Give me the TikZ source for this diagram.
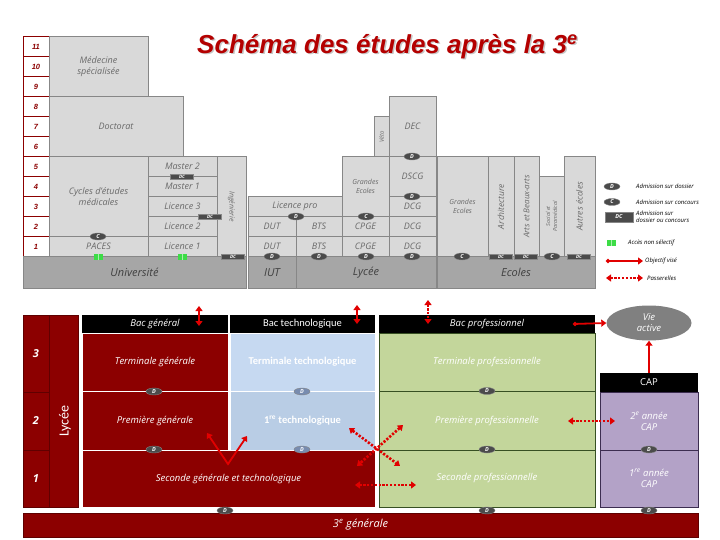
\documentclass[tikz,border=0pt]{standalone}
\usepackage{fontspec}
\setmainfont{Open Sans}
\newfontfamily\titrefont{Liberation Sans}
\newfontfamily\calibfont{Carlito}
\usetikzlibrary{positioning,shapes.geometric,arrows.meta}

\definecolor{rougefonce}{RGB}{140,0,0}
\definecolor{rougetrait}{RGB}{95,0,0}
\definecolor{rougetitre}{RGB}{180,0,0}
\definecolor{rougefleche}{RGB}{225,0,0}
\definecolor{grisclair}{RGB}{217,217,217}
\definecolor{grisbord}{RGB}{135,135,135}
\definecolor{grisbase}{RGB}{166,166,166}
\definecolor{gristexte}{RGB}{105,105,105}
\definecolor{grisbadge}{RGB}{75,75,75}
\definecolor{bleutermt}{RGB}{198,217,241}
\definecolor{bleupremt}{RGB}{185,205,229}
\definecolor{bleubadge}{RGB}{120,140,175}
\definecolor{vertpro}{RGB}{195,214,155}
\definecolor{vertbord}{RGB}{55,80,35}
\definecolor{violetcap}{RGB}{179,162,199}
\definecolor{violetbord}{RGB}{60,45,80}
\definecolor{vertacces}{RGB}{60,220,70}
\definecolor{grisvie}{RGB}{128,128,128}

\tikzset{
  zone/.style n args={4}{at={({((#1)+(#3))/2},{((#2)+(#4))/2})},
    minimum width={((#3)-(#1))*1pt}, minimum height={((#4)-(#2))*1pt}},
  annee/.style={draw=rougefonce, fill=white, inner sep=0pt, text=rougefonce,
    font=\titrefont\bfseries\itshape\fontsize{7.5}{8}\selectfont},
  gbox/.style={draw=grisbord, fill=grisclair, inner sep=0pt, text=gristexte,
    font=\itshape\small, align=center},
  petit/.style={font=\itshape\fontsize{7}{8.5}\selectfont},
  basebox/.style={draw=grisbord, fill=grisbase, inner sep=0pt, text=black!75,
    font=\itshape\fontsize{11}{12}\selectfont},
  dbadge/.style={ellipse, draw=grisbord, fill=grisbadge, minimum width=16pt,
    minimum height=7pt, inner sep=0pt, text=white,
    font=\bfseries\itshape\fontsize{5.5}{5.5}\selectfont},
  dcbadge/.style={rectangle, draw=grisbord, fill=grisbadge, minimum width=23pt,
    minimum height=5.5pt, inner sep=0pt, text=white,
    font=\bfseries\itshape\fontsize{4.5}{4.5}\selectfont},
  nonsel/.style={fill=vertacces, minimum width=9pt, minimum height=6pt, inner sep=0pt,
    path picture={\draw[white!55!vertacces, line width=0.8pt]
      (path picture bounding box.north) -- (path picture bounding box.south);}},
  legende/.style={anchor=west, inner sep=0pt, align=left,
    font=\itshape\fontsize{6}{7}\selectfont},
  rbox/.style={draw=white, line width=0.8pt, fill=rougefonce, inner sep=0pt, text=white,
    font=\itshape\fontsize{9.5}{11}\selectfont, align=center},
  entete/.style={fill=black, inner sep=0pt, text=white,
    font=\itshape\fontsize{9.5}{11}\selectfont},
  tbox/.style={draw=white, line width=0.8pt, inner sep=0pt, text=white,
    font=\calibfont\bfseries\fontsize{10.5}{12}\selectfont},
  pbox/.style={draw=vertbord, fill=vertpro, inner sep=0pt, text=white,
    font=\itshape\fontsize{9.5}{11}\selectfont},
  cbox/.style={draw=violetbord, fill=violetcap, inner sep=0pt, text=white,
    font=\itshape\fontsize{9.5}{11}\selectfont, align=center},
  fleche/.style={draw=rougefleche, line width=1.8pt},
  passerelle/.style={draw=rougefleche, line width=2.6pt, dash pattern=on 2.2pt off 1.6pt},
  pointe/.tip={Triangle[width=7pt,length=5pt]},
  depart/.tip={Circle[length=4pt]}
}

\begin{document}
\begin{tikzpicture}[x=1pt, y=-1pt]
  \useasboundingbox (0,0) rectangle (720,540);

  % titre
  \node[anchor=base, text=black!22, font=\titrefont\bfseries\itshape\fontsize{26}{26}\selectfont]
    (ombre) at (389,55) {Schéma des études après la 3\textsuperscript{e}};
  \node[anchor=base, text=rougetitre, font=\titrefont\bfseries\itshape\fontsize{26}{26}\selectfont]
    (titre) at (387.5,53.5) {Schéma des études après la 3\textsuperscript{e}};

  % annees apres le bac
  \foreach \a in {1,...,11}
    \node[annee, zone={23}{256.5-20*\a}{49}{276.5-20*\a}] (an\a) {\a};

  % universite
  \node[gbox, zone={49}{36.5}{148}{96.5}] (medspe) {Médecine\\spécialisée};
  \node[gbox, zone={49}{96.5}{183}{156.5}] (doct) {Doctorat};
  \node[gbox, zone={49}{156.5}{148}{236.5}] (cycles) {Cycles d'études\\médicales};
  \node[gbox, zone={49}{236.5}{148}{256.5}] (paces) {PACES};
  \node[gbox, zone={148}{156.5}{217}{176.5}] (m2) {Master 2};
  \node[gbox, zone={148}{176.5}{217}{196.5}] (m1) {Master 1};
  \node[gbox, zone={148}{196.5}{217}{216.5}] (l3) {Licence 3};
  \node[gbox, zone={148}{216.5}{217}{236.5}] (l2) {Licence 2};
  \node[gbox, zone={148}{236.5}{217}{256.5}] (l1) {Licence 1};
  \node[gbox, zone={217}{156.5}{246}{256.5}] (ing) {};
  \node[rotate=-90, text=gristexte, petit] at (ing) {Ingénierie};
  \node[basebox, zone={23}{256.5}{246}{288}] (univ) {Université};

  % iut et lycee
  \node[gbox, zone={248}{196.5}{342}{216.5}] (lpro) {Licence pro};
  \node[gbox, zone={248}{216.5}{296}{236.5}] (dut2) {DUT};
  \node[gbox, zone={296}{216.5}{342}{236.5}] (bts2) {BTS};
  \node[gbox, zone={248}{236.5}{296}{256.5}] (dut1) {DUT};
  \node[gbox, zone={296}{236.5}{342}{256.5}] (bts1) {BTS};
  \node[gbox, petit, zone={342}{156.5}{389}{216.5}] (ge) {Grandes\\Ecoles};
  \node[gbox, zone={342}{216.5}{389}{236.5}] (cpge2) {CPGE};
  \node[gbox, zone={342}{236.5}{389}{256.5}] (cpge1) {CPGE};
  \node[gbox, zone={374}{116.5}{389}{156.5}] (veto) {};
  \node[rotate=90, text=gristexte, font=\itshape\fontsize{6}{7}\selectfont] at (veto) {Véto};
  \node[gbox, zone={389}{96.5}{436}{156.5}] (dec) {DEC};
  \node[gbox, zone={389}{156.5}{436}{196.5}] (dscg) {DSCG};
  \node[gbox, zone={389}{196.5}{436}{216.5}] (dcg3) {DCG};
  \node[gbox, zone={389}{216.5}{436}{236.5}] (dcg2) {DCG};
  \node[gbox, zone={389}{236.5}{436}{256.5}] (dcg1) {DCG};
  \node[basebox, zone={248}{256.5}{296}{288}] (iut) {IUT};
  \node[basebox, zone={296}{256.5}{436}{288}] (lyc) {Lycée};

  % ecoles
  \node[gbox, petit, zone={437}{156.5}{488}{256.5}] (gec) {Grandes\\Ecoles};
  \node[gbox, zone={488}{156.5}{514}{256.5}] (archi) {};
  \node[gbox, zone={514}{156.5}{539}{256.5}] (arts) {};
  \node[gbox, zone={539}{176.5}{564}{256.5}] (social) {};
  \node[gbox, zone={564}{156.5}{595}{256.5}] (autres) {};
  \node[rotate=90, text=gristexte, font=\itshape\fontsize{8.5}{9}\selectfont] at (archi) {Architecture};
  \node[rotate=90, text=gristexte, font=\itshape\fontsize{8}{9}\selectfont] at (arts) {Arts et Beaux-arts};
  \node[rotate=90, text=gristexte, align=center, font=\itshape\fontsize{5.5}{7}\selectfont] at (social) {Social et\\Paramédical};
  \node[rotate=90, text=gristexte, font=\itshape\fontsize{8.5}{9}\selectfont] at (autres) {Autres écoles};
  \node[basebox, zone={437}{256.5}{595}{288}] (ecoles) {Ecoles};

  % modes d'admission
  \node[dbadge] (cPaces) at (98,236.5) {C};
  \node[nonsel] (nsPaces) at (98,256.5) {};
  \node[nonsel] (nsLic) at (182,256.5) {};
  \node[dcbadge] (dcMaster) at (182,176.5) {DC};
  \node[dcbadge] (dcL3) at (210,216.5) {DC};
  \node[dcbadge] (dcIng) at (233,256.5) {DC};
  \node[dbadge] (dLpro) at (296,216.5) {D};
  \node[dbadge] (dDut) at (272,256.5) {D};
  \node[dbadge] (dBts) at (319,256.5) {D};
  \node[dbadge] (dCpge) at (366,256.5) {D};
  \node[dbadge] (cGe) at (366,216.5) {C};
  \node[dbadge] (dDcg) at (412,256.5) {D};
  \node[dbadge] (dDscg) at (412,196.5) {D};
  \node[dbadge] (dDec) at (412,156.5) {D};
  \node[dbadge] (cGec) at (462,256.5) {C};
  \node[dcbadge] (dcArchi) at (501,256.5) {DC};
  \node[dcbadge] (dcArts) at (526,256.5) {DC};
  \node[dbadge] (cSocial) at (552,256.5) {C};
  \node[dcbadge] (dcAutres) at (579,256.5) {DC};

  % legende
  \node[dbadge] (legD) at (612,186.5) {D};
  \node[legende] (legDt) at (636,186.5) {Admission sur dossier};
  \node[dbadge] (legC) at (612,202) {C};
  \node[legende] (legCt) at (636,202) {Admission sur concours};
  \node[dcbadge, minimum width=28pt, minimum height=10pt,
    font=\bfseries\itshape\fontsize{5.5}{5.5}\selectfont] (legDC) at (619,217) {DC};
  \node[legende] (legDCt) at (636,217) {Admission sur\\dossier ou concours};
  \node[nonsel] (legNs) at (611,243) {};
  \node[legende] (legNst) at (628,243) {Accès non sélectif};
  \coordinate (legO1) at (606,261);
  \coordinate (legO2) at (643,261);
  \draw[fleche, depart-pointe] (legO1) -- (legO2);
  \node[legende] (legOt) at (645,261) {Objectif visé};
  \coordinate (legP1) at (606,278);
  \coordinate (legP2) at (643,278);
  \draw[passerelle, pointe-pointe] (legP1) -- (legP2);
  \node[legende] (legPt) at (647,278) {Passerelles};

  % lycee
  \foreach \n/\ya/\yb in {3/315/392, 2/392/450, 1/450/507}
    \node[rbox, draw=rougetrait, font=\bfseries\itshape\fontsize{11}{12}\selectfont,
      zone={23}{\ya}{49}{\yb}] (bn\n) {\n};
  \node[rbox, draw=rougetrait, zone={49}{315}{78}{507}] (lycee) {};
  \node[rotate=90, text=white, font=\calibfont\fontsize{14}{14}\selectfont] at (65,421) {Lycée};

  \node[entete, zone={82}{315}{228}{333}] (bacg) {Bac général};
  \node[entete, font=\calibfont\fontsize{10.5}{12}\selectfont, zone={230}{315}{375}{333}] (bact) {Bac technologique};
  \node[entete, zone={379}{315}{595}{333}] (bacp) {Bac professionnel};

  \node[rbox, zone={82}{333}{228}{391}] (termg) {Terminale générale};
  \node[rbox, zone={82}{391}{228}{450}] (premg) {Première générale};
  \node[rbox, zone={82}{450}{375}{507}] (secg) {Seconde générale et technologique};
  \node[tbox, fill=bleutermt, zone={230}{333}{375}{391}] (termt) {Terminale technologique};
  \node[tbox, fill=bleupremt, zone={230}{391}{375}{450}] (premt) {1\textsuperscript{re} technologique};
  \node[pbox, zone={379}{333}{595}{391}] (termp) {Terminale professionnelle};
  \node[pbox, zone={379}{391}{595}{450}] (premp) {Première professionnelle};
  \node[pbox, zone={379}{450}{595}{507}] (secp) {Seconde professionnelle};

  \node[entete, font=\fontsize{9.5}{11}\selectfont, zone={600}{373}{698}{392}] (cap) {CAP};
  \node[cbox, zone={600}{392}{698}{450}] (cap2) {2\textsuperscript{e} année\\CAP};
  \node[cbox, zone={600}{450}{698}{507}] (cap1) {1\textsuperscript{re} année\\CAP};
  \node[ellipse, fill=grisvie, minimum width=85pt, minimum height=35pt, inner sep=0pt,
    text=white, align=center, font=\itshape\fontsize{9.5}{11}\selectfont] (vie) at (649,323) {Vie\\active};

  \node[rbox, draw=rougetrait, font=\itshape\fontsize{11}{12}\selectfont,
    zone={23}{513}{698}{537}] (troisieme) {3\textsuperscript{e} générale};

  % passages d'une classe a l'autre
  \node[dbadge] (dTermg) at (154,391.5) {D};
  \node[dbadge] (dPremg) at (154,449.5) {D};
  \node[dbadge] (dSecg) at (225,510.5) {D};
  \node[dbadge, fill=bleubadge] (dTermt) at (302,391.5) {D};
  \node[dbadge, fill=bleubadge] (dPremt) at (302,449.5) {D};
  \node[dbadge] (dTermp) at (487,391) {D};
  \node[dbadge] (dPremp) at (487,449.5) {D};
  \node[dbadge] (dSecp) at (487,510.5) {D};
  \node[dbadge] (dCap2) at (649,449.5) {D};
  \node[dbadge] (dCap1) at (649,510.5) {D};

  % objectifs et passerelles
  \coordinate (bgH) at (199,306);  \coordinate (bgB) at (199,326);
  \coordinate (btH) at (357,305);  \coordinate (btB) at (357,324);
  \coordinate (bpH) at (428,300);  \coordinate (bpB) at (428,324);
  \coordinate (vPt) at (228,464);
  \coordinate (vG) at (207,433);   \coordinate (vT) at (247,436);
  \coordinate (x1a) at (349,428);  \coordinate (x1b) at (400,466);
  \coordinate (x2a) at (403,425);  \coordinate (x2b) at (357,466);
  \coordinate (hA) at (355,485);   \coordinate (hB) at (416,485);
  \coordinate (pcA) at (568,421);  \coordinate (pcB) at (615,421);
  \coordinate (bpDep) at (573,324);

  \draw[fleche, pointe-pointe] (bgH) -- (bgB);
  \draw[fleche, pointe-pointe] (btH) -- (btB);
  \draw[passerelle, pointe-pointe] (bpH) -- (bpB);
  \draw[fleche, pointe-pointe] (vG) -- (vPt) -- (vT);
  \draw[passerelle, pointe-pointe] (x1a) -- (x1b);
  \draw[passerelle, pointe-pointe] (x2a) -- (x2b);
  \draw[passerelle, pointe-pointe] (hA) -- (hB);
  \draw[passerelle, pointe-pointe] (pcA) -- (pcB);
  \draw[fleche, depart-pointe] (bpDep) -- (vie.west);
  \draw[fleche, -pointe] (cap.north) -- (vie.south);
\end{tikzpicture}
\end{document}
